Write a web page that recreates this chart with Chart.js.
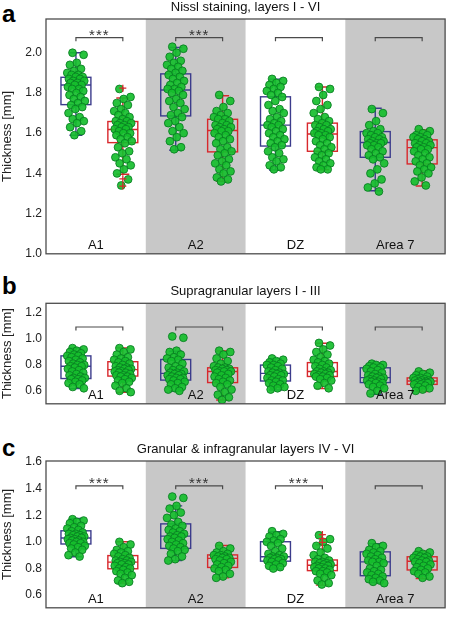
<!DOCTYPE html>
<html>
<head>
<meta charset="utf-8">
<script src="https://cdn.jsdelivr.net/npm/chart.js@4.4.1/dist/chart.umd.min.js"></script>
<style>
body { margin: 0; background: #fff; width: 450px; height: 619px; position: relative; overflow: hidden; }
canvas { position: absolute; left: 0; }
.tag { position: absolute; left: 2px; font: bold 24px 'Liberation Sans', Arial, sans-serif; line-height: 24px; color: #000; }
</style>
</head>
<body>
<div class="tag" style="top:2px">a</div>
<div class="tag" style="top:274px">b</div>
<div class="tag" style="top:436px">c</div>
<canvas id="panel-a" width="450" height="265" style="top:0;width:450px;height:265px"></canvas>
<canvas id="panel-b" width="450" height="131" style="top:284px;width:450px;height:131px"></canvas>
<canvas id="panel-c" width="450" height="177" style="top:442px;width:450px;height:177px"></canvas>
<script>
const FONT = "'Liberation Sans', Arial, sans-serif";
const BLUE = '#3c3c8c';
const RED = '#d8282c';

const regions = ['A1', 'A2', 'DZ', 'Area 7'];
const shaded = [false, true, false, true];

// box stats per area: [whisker low, q1, median, q3, whisker high]
// ---- a: Nissl staining, layers I - VI
const ticksA = [1.0, 1.2, 1.4, 1.6, 1.8, 2.0];
const boxA_blue = [[1.59, 1.742, 1.84, 1.878, 2.0], [1.515, 1.686, 1.815, 1.895, 2.026], [1.417, 1.536, 1.64, 1.781, 1.869], [1.314, 1.48, 1.554, 1.608, 1.724]];
const boxA_red = [[1.396, 1.553, 1.618, 1.658, 1.775], [1.361, 1.507, 1.613, 1.669, 1.786], [1.418, 1.51, 1.596, 1.65, 1.83], [1.337, 1.447, 1.528, 1.567, 1.616]];
const outA_red = [[1.824, 1.373, 1.337], [], [], []];
const starsA = [true, true, false, false];
const dotsA_blue = [
  [2.00, 1.99, 1.95, 1.94, 1.92, 1.91, 1.90, 1.89, 1.89, 1.88, 1.88, 1.87, 1.87, 1.86, 1.86, 1.85, 1.85, 1.84, 1.84, 1.83, 1.82, 1.82, 1.81, 1.80, 1.79, 1.78, 1.77, 1.76, 1.75, 1.74, 1.73, 1.72, 1.70, 1.68, 1.67, 1.66, 1.65, 1.63, 1.61, 1.59],
  [2.03, 2.02, 2.00, 1.98, 1.96, 1.95, 1.94, 1.93, 1.92, 1.91, 1.90, 1.89, 1.88, 1.87, 1.86, 1.85, 1.84, 1.83, 1.82, 1.82, 1.81, 1.80, 1.79, 1.77, 1.76, 1.75, 1.73, 1.72, 1.70, 1.69, 1.68, 1.66, 1.65, 1.63, 1.61, 1.60, 1.58, 1.56, 1.53, 1.52],
  [1.87, 1.86, 1.85, 1.84, 1.83, 1.82, 1.81, 1.80, 1.79, 1.78, 1.76, 1.74, 1.72, 1.71, 1.70, 1.68, 1.67, 1.66, 1.65, 1.64, 1.64, 1.63, 1.62, 1.61, 1.60, 1.59, 1.58, 1.57, 1.56, 1.55, 1.54, 1.53, 1.51, 1.50, 1.48, 1.47, 1.46, 1.44, 1.43, 1.42],
  [1.72, 1.70, 1.66, 1.64, 1.62, 1.61, 1.60, 1.60, 1.59, 1.58, 1.58, 1.57, 1.57, 1.56, 1.56, 1.55, 1.55, 1.55, 1.54, 1.54, 1.53, 1.52, 1.51, 1.50, 1.49, 1.48, 1.47, 1.45, 1.42, 1.40, 1.37, 1.35, 1.33, 1.31]
];
const dotsA_red = [
  [1.82, 1.78, 1.77, 1.75, 1.74, 1.72, 1.71, 1.70, 1.69, 1.68, 1.67, 1.66, 1.66, 1.65, 1.65, 1.64, 1.64, 1.63, 1.63, 1.62, 1.62, 1.61, 1.60, 1.60, 1.59, 1.58, 1.57, 1.56, 1.55, 1.53, 1.51, 1.50, 1.48, 1.47, 1.45, 1.44, 1.42, 1.40, 1.37, 1.34],
  [1.79, 1.76, 1.73, 1.71, 1.70, 1.69, 1.68, 1.67, 1.67, 1.66, 1.65, 1.64, 1.64, 1.63, 1.63, 1.62, 1.62, 1.61, 1.61, 1.60, 1.59, 1.58, 1.57, 1.56, 1.55, 1.53, 1.52, 1.51, 1.50, 1.49, 1.47, 1.46, 1.45, 1.44, 1.42, 1.41, 1.40, 1.38, 1.37, 1.36],
  [1.83, 1.82, 1.79, 1.76, 1.74, 1.72, 1.70, 1.68, 1.67, 1.66, 1.65, 1.64, 1.64, 1.63, 1.62, 1.62, 1.61, 1.61, 1.60, 1.60, 1.59, 1.59, 1.58, 1.57, 1.56, 1.55, 1.54, 1.53, 1.52, 1.51, 1.50, 1.49, 1.48, 1.47, 1.46, 1.45, 1.44, 1.43, 1.42, 1.42],
  [1.62, 1.61, 1.60, 1.59, 1.59, 1.58, 1.58, 1.57, 1.57, 1.56, 1.56, 1.55, 1.55, 1.54, 1.54, 1.53, 1.53, 1.52, 1.52, 1.51, 1.50, 1.49, 1.48, 1.47, 1.46, 1.45, 1.44, 1.43, 1.42, 1.41, 1.40, 1.38, 1.36, 1.34]
];

// ---- b: Supragranular layers I - III
const ticksB = [0.6, 0.8, 1.0, 1.2];
const boxB_blue = [[0.617, 0.695, 0.79, 0.87, 0.93], [0.598, 0.683, 0.735, 0.842, 0.906], [0.607, 0.676, 0.735, 0.799, 0.849], [0.574, 0.664, 0.702, 0.778, 0.814]];
const boxB_red = [[0.588, 0.714, 0.764, 0.825, 0.932], [0.529, 0.664, 0.749, 0.778, 0.908], [0.617, 0.711, 0.749, 0.818, 0.968], [0.595, 0.65, 0.676, 0.70, 0.754]];
const outB_red = [[], [], [], []];
const starsB = [false, false, false, false];
const dotsB_blue = [
  [0.93, 0.92, 0.91, 0.90, 0.89, 0.88, 0.87, 0.87, 0.86, 0.85, 0.84, 0.83, 0.82, 0.81, 0.80, 0.80, 0.79, 0.79, 0.78, 0.77, 0.76, 0.75, 0.74, 0.73, 0.72, 0.71, 0.70, 0.70, 0.69, 0.69, 0.68, 0.67, 0.66, 0.65, 0.63, 0.62],
  [1.02, 1.01, 0.91, 0.90, 0.88, 0.86, 0.85, 0.84, 0.83, 0.81, 0.79, 0.78, 0.77, 0.76, 0.75, 0.74, 0.74, 0.73, 0.73, 0.72, 0.72, 0.71, 0.70, 0.70, 0.69, 0.69, 0.68, 0.67, 0.66, 0.65, 0.63, 0.62, 0.61, 0.60],
  [0.85, 0.84, 0.83, 0.82, 0.81, 0.80, 0.80, 0.79, 0.78, 0.77, 0.76, 0.75, 0.74, 0.74, 0.73, 0.73, 0.72, 0.72, 0.71, 0.70, 0.69, 0.68, 0.68, 0.67, 0.66, 0.65, 0.64, 0.63, 0.62, 0.61],
  [0.81, 0.80, 0.80, 0.79, 0.78, 0.78, 0.77, 0.76, 0.75, 0.74, 0.73, 0.72, 0.71, 0.71, 0.70, 0.70, 0.69, 0.69, 0.68, 0.68, 0.67, 0.67, 0.66, 0.66, 0.65, 0.64, 0.63, 0.62, 0.60, 0.58]
];
const dotsB_red = [
  [0.93, 0.92, 0.90, 0.88, 0.86, 0.85, 0.84, 0.83, 0.82, 0.81, 0.80, 0.79, 0.78, 0.78, 0.77, 0.77, 0.76, 0.76, 0.75, 0.75, 0.74, 0.74, 0.73, 0.72, 0.72, 0.71, 0.71, 0.70, 0.69, 0.68, 0.67, 0.66, 0.64, 0.62, 0.60, 0.59],
  [0.91, 0.90, 0.88, 0.85, 0.83, 0.81, 0.79, 0.78, 0.78, 0.77, 0.77, 0.76, 0.76, 0.75, 0.75, 0.75, 0.74, 0.73, 0.72, 0.71, 0.70, 0.69, 0.68, 0.67, 0.66, 0.65, 0.63, 0.61, 0.59, 0.57, 0.55, 0.53],
  [0.97, 0.95, 0.92, 0.90, 0.88, 0.86, 0.84, 0.83, 0.82, 0.81, 0.80, 0.79, 0.78, 0.77, 0.76, 0.75, 0.75, 0.74, 0.74, 0.73, 0.73, 0.72, 0.72, 0.71, 0.71, 0.70, 0.69, 0.68, 0.66, 0.64, 0.62],
  [0.75, 0.74, 0.73, 0.72, 0.71, 0.70, 0.70, 0.69, 0.69, 0.68, 0.68, 0.68, 0.67, 0.67, 0.67, 0.66, 0.66, 0.66, 0.65, 0.65, 0.64, 0.63, 0.62, 0.61, 0.60]
];

// ---- c: Granular & infragranular layers IV - VI
const ticksC = [0.6, 0.8, 1.0, 1.2, 1.4, 1.6];
const boxC_blue = [[0.888, 0.984, 1.029, 1.083, 1.175], [0.859, 0.951, 1.043, 1.135, 1.27], [0.796, 0.855, 0.888, 1.001, 1.076], [0.694, 0.746, 0.85, 0.925, 0.987]];
const boxC_red = [[0.69, 0.798, 0.848, 0.897, 1.001], [0.73, 0.808, 0.876, 0.902, 0.973], [0.675, 0.784, 0.824, 0.864, 0.977], [0.725, 0.789, 0.855, 0.888, 0.928]];
const outC_red = [[], [], [1.055, 1.025, 0.996], []];
const starsC = [true, true, true, false];
const dotsC_blue = [
  [1.17, 1.16, 1.15, 1.14, 1.12, 1.11, 1.10, 1.09, 1.08, 1.07, 1.06, 1.06, 1.05, 1.05, 1.04, 1.04, 1.03, 1.03, 1.02, 1.02, 1.01, 1.01, 1.00, 1.00, 0.99, 0.99, 0.98, 0.97, 0.96, 0.95, 0.94, 0.92, 0.90, 0.89],
  [1.34, 1.33, 1.27, 1.25, 1.22, 1.20, 1.18, 1.15, 1.13, 1.12, 1.10, 1.09, 1.08, 1.07, 1.06, 1.05, 1.04, 1.04, 1.03, 1.02, 1.01, 1.00, 0.99, 0.98, 0.97, 0.96, 0.95, 0.94, 0.93, 0.91, 0.89, 0.87, 0.86],
  [1.08, 1.06, 1.05, 1.04, 1.02, 1.01, 1.00, 0.99, 0.97, 0.95, 0.93, 0.91, 0.90, 0.89, 0.89, 0.88, 0.88, 0.87, 0.87, 0.86, 0.86, 0.85, 0.84, 0.83, 0.82, 0.81, 0.80],
  [0.99, 0.97, 0.96, 0.94, 0.93, 0.92, 0.91, 0.90, 0.89, 0.88, 0.87, 0.86, 0.85, 0.85, 0.84, 0.82, 0.80, 0.79, 0.78, 0.77, 0.76, 0.75, 0.74, 0.73, 0.72, 0.71, 0.70, 0.69]
];
const dotsC_red = [
  [1.00, 0.98, 0.96, 0.94, 0.93, 0.92, 0.91, 0.90, 0.89, 0.88, 0.87, 0.86, 0.86, 0.85, 0.85, 0.84, 0.84, 0.83, 0.83, 0.82, 0.81, 0.80, 0.80, 0.79, 0.78, 0.77, 0.76, 0.75, 0.73, 0.71, 0.70, 0.69],
  [0.97, 0.95, 0.93, 0.92, 0.91, 0.90, 0.90, 0.89, 0.89, 0.88, 0.88, 0.87, 0.87, 0.86, 0.85, 0.84, 0.83, 0.82, 0.81, 0.80, 0.79, 0.78, 0.76, 0.74, 0.73],
  [1.05, 1.02, 1.00, 0.97, 0.95, 0.92, 0.90, 0.88, 0.87, 0.86, 0.85, 0.85, 0.84, 0.84, 0.83, 0.83, 0.82, 0.82, 0.81, 0.81, 0.80, 0.80, 0.79, 0.78, 0.78, 0.77, 0.76, 0.75, 0.73, 0.71, 0.69, 0.68],
  [0.93, 0.92, 0.91, 0.90, 0.89, 0.89, 0.88, 0.88, 0.87, 0.86, 0.86, 0.85, 0.85, 0.84, 0.83, 0.82, 0.81, 0.80, 0.79, 0.78, 0.77, 0.76, 0.74, 0.73]
];

// where the two boxes sit inside each area (x units, one area = 1)
const POS_BLUE = 0.30, POS_RED = 0.77;

// spread the dots sideways around the box centre (layout only)
function spread(vals, centre) {
  return vals.map((v, k) => ({ x: centre + (((k * 0.618034 + 0.31) % 1) * 2 - 1) * 0.09, y: v }));
}

const panelPlugin = {
  id: 'panel',
  beforeDatasetsDraw(chart, args, o) {
    const { ctx, chartArea: ca, scales: { x, y } } = chart;
    ctx.save();
    shaded.forEach((s, i) => {
      if (!s) return;
      const x0 = x.getPixelForValue(i), x1 = x.getPixelForValue(i + 1);
      ctx.fillStyle = '#c8c8c8';
      ctx.fillRect(x0, ca.top, x1 - x0, ca.bottom - ca.top);
    });
    const drawBox = (st, cx, col) => {
      const xc = x.getPixelForValue(cx);
      const hw = x.getPixelForValue(cx + 0.15) - xc;
      const cw = 6.5;
      const [lo, q1, md, q3, hi] = st.map(v => y.getPixelForValue(v));
      ctx.strokeStyle = col;
      ctx.lineWidth = 1.4;
      ctx.strokeRect(xc - hw, q3, 2 * hw, q1 - q3);
      ctx.beginPath();
      ctx.moveTo(xc - hw, md); ctx.lineTo(xc + hw, md);
      ctx.moveTo(xc, q3); ctx.lineTo(xc, hi);
      ctx.moveTo(xc, q1); ctx.lineTo(xc, lo);
      ctx.moveTo(xc - cw, hi); ctx.lineTo(xc + cw, hi);
      ctx.moveTo(xc - cw, lo); ctx.lineTo(xc + cw, lo);
      ctx.stroke();
    };
    o.blue.forEach((st, i) => drawBox(st, i + POS_BLUE, BLUE));
    o.red.forEach((st, i) => drawBox(st, i + POS_RED, RED));
    ctx.restore();
  },
  afterDatasetsDraw(chart, args, o) {
    const { ctx, chartArea: ca, scales: { x, y } } = chart;
    ctx.save();
    // outliers
    ctx.strokeStyle = RED;
    ctx.lineWidth = 1.3;
    o.outRed.forEach((list, i) => {
      const xc = x.getPixelForValue(i + POS_RED);
      list.forEach(v => {
        const yy = y.getPixelForValue(v);
        ctx.beginPath();
        ctx.moveTo(xc - 3.5, yy); ctx.lineTo(xc + 3.5, yy);
        ctx.moveTo(xc, yy - 3.5); ctx.lineTo(xc, yy + 3.5);
        ctx.stroke();
      });
    });
    // brackets and stars
    const by = y.getPixelForValue(o.bracket);
    ctx.strokeStyle = '#4a4a4a';
    ctx.lineWidth = 1.2;
    ctx.fillStyle = '#333';
    ctx.font = '15px ' + FONT;
    ctx.textAlign = 'center';
    ctx.textBaseline = 'alphabetic';
    if ('letterSpacing' in ctx) ctx.letterSpacing = '1px';
    regions.forEach((r, i) => {
      const x0 = x.getPixelForValue(i + POS_BLUE), x1 = x.getPixelForValue(i + POS_RED);
      ctx.beginPath();
      ctx.moveTo(x0, by + 3.5); ctx.lineTo(x0, by); ctx.lineTo(x1, by); ctx.lineTo(x1, by + 3.5);
      ctx.stroke();
      if (o.stars[i]) ctx.fillText('***', (x0 + x1) / 2, by + 2);
    });
    if ('letterSpacing' in ctx) ctx.letterSpacing = '0px';
    // area names
    ctx.fillStyle = '#111';
    ctx.font = '13px ' + FONT;
    ctx.textBaseline = 'middle';
    regions.forEach((r, i) => {
      ctx.fillText(r, x.getPixelForValue(i + 0.5), ca.bottom - 8);
    });
    // frame
    ctx.strokeStyle = '#4d4d4d';
    ctx.lineWidth = 1.3;
    ctx.strokeRect(ca.left, ca.top, ca.right - ca.left, ca.bottom - ca.top);
    ctx.restore();
  }
};

function makePanel(id, title, yMin, yMax, ticks, boxBlue, boxRed, outRed, dotsBlue, dotsRed, stars, bracket, padBottom, titleGap) {
  const blueDots = [].concat(...dotsBlue.map((d, i) => spread(d, i + POS_BLUE)));
  const redDots = [].concat(...dotsRed.map((d, i) => spread(d, i + POS_RED)));
  const dotStyle = {
    backgroundColor: 'rgba(22,190,44,0.92)',
    borderColor: 'rgba(8,125,34,0.95)',
    borderWidth: 0.9,
    pointRadius: 3.9,
    showLine: false
  };
  return new Chart(document.getElementById(id), {
    type: 'scatter',
    data: {
      datasets: [
        Object.assign({ label: 'blue', data: blueDots }, dotStyle),
        Object.assign({ label: 'red', data: redDots }, dotStyle)
      ]
    },
    options: {
      responsive: false,
      animation: false,
      devicePixelRatio: 1,
      layout: { padding: { left: 0, right: 2, top: 0, bottom: padBottom } },
      scales: {
        x: { type: 'linear', min: 0, max: 4, display: false },
        y: {
          min: yMin,
          max: yMax,
          afterFit(s) { s.width = 46; },
          afterBuildTicks(s) { s.ticks = ticks.map(v => ({ value: v })); },
          grid: { display: false, drawTicks: false },
          border: { display: false },
          ticks: { padding: 4, color: '#222', font: { size: 12, family: FONT }, callback: v => v.toFixed(1) },
          title: { display: true, text: 'Thickness [mm]', color: '#222', font: { size: 13, family: FONT }, padding: 0 }
        }
      },
      plugins: {
        legend: { display: false },
        tooltip: { enabled: false },
        title: {
          display: true,
          text: title,
          fullSize: false,
          color: '#111',
          font: { size: 13, family: FONT, weight: 'normal' },
          padding: { top: 0, bottom: titleGap }
        },
        panel: { blue: boxBlue, red: boxRed, outRed: outRed, stars: stars, bracket: bracket }
      }
    },
    plugins: [panelPlugin]
  });
}

makePanel('panel-a', 'Nissl staining, layers I - VI', 1.0, 2.168, ticksA, boxA_blue, boxA_red, outA_red, dotsA_blue, dotsA_red, starsA, 2.075, 5.7, 3.4);
makePanel('panel-b', 'Supragranular layers I - III', 0.5, 1.276, ticksB, boxB_blue, boxB_red, outB_red, dotsB_blue, dotsB_red, starsB, 1.093, 2.7, 3.7);
makePanel('panel-c', 'Granular & infragranular layers IV - VI', 0.505, 1.607, ticksC, boxC_blue, boxC_red, outC_red, dotsC_blue, dotsC_red, starsC, 1.421, 2.3, 3.4);
</script>
</body>
</html>
